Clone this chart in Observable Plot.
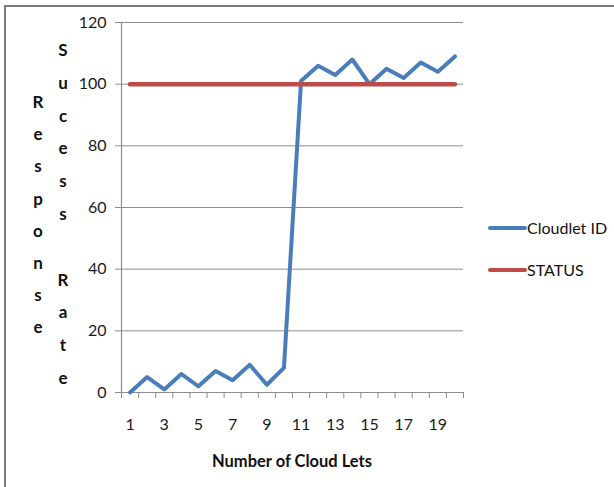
<!DOCTYPE html>
<html>
<head>
<meta charset="utf-8">
<script src="https://cdn.jsdelivr.net/npm/d3@7"></script>
<script src="https://cdn.jsdelivr.net/npm/@observablehq/plot@0.6"></script>
<style>
  html, body { margin: 0; padding: 0; background: #fff; }
  #wrap { position: relative; width: 614px; height: 487px; overflow: hidden; }
  #edge { position: absolute; left: 4px; top: 5px; width: 700px; height: 600px;
          border-left: 2px solid #7a7a7a; border-top: 2px solid #7a7a7a; }
  #chart { position: absolute; left: 0; top: 0; }
</style>
</head>
<body>
<div id="wrap"><div id="edge"></div><div id="chart"></div></div>
<script>
// Number of cloudlets (category axis)
const cloudlets = [1, 2, 3, 4, 5, 6, 7, 8, 9, 10, 11, 12, 13, 14, 15, 16, 17, 18, 19, 20];
// Series: Cloudlet ID
const cloudletId = [0, 5, 1, 6, 2, 7, 4, 9, 2.5, 8, 101, 106, 103, 108, 100, 105, 102, 107, 104, 109];
// Series: STATUS
const status = [100, 100, 100, 100, 100, 100, 100, 100, 100, 100, 100, 100, 100, 100, 100, 100, 100, 100, 100, 100];
// Axis labels
const xTickLabels = [1, 3, 5, 7, 9, 11, 13, 15, 17, 19];
const yTicks = [0, 20, 40, 60, 80, 100, 120];
const seriesNames = ["Cloudlet ID", "STATUS"];
const seriesColors = ["#4a7ebb", "#be4b48"];

const rows = cloudlets.map((c, i) => ({cloudlet: c, id: cloudletId[i], status: status[i]}));
// category boundaries for the tick marks between categories
const boundaries = cloudlets.map(c => c - 0.5).concat([cloudlets[cloudlets.length - 1] + 0.5]);

const axisGray = "#8c8c8c";

const chart = Plot.plot({
  width: 614,
  height: 487,
  marginLeft: 121,
  marginRight: 151,
  marginTop: 22,
  marginBottom: 95,
  style: {fontFamily: "Lato, 'Open Sans', sans-serif", fontSize: "16px", color: "#222", background: "transparent"},
  x: {type: "linear", domain: [0.5, 20.5]},
  y: {domain: [0, 120]},
  marks: [
    Plot.gridY(yTicks, {stroke: axisGray, strokeOpacity: 1}),
    Plot.axisY(yTicks, {tickSize: 6, tickPadding: 9, label: null, stroke: axisGray, fill: "#1a1a1a"}),
    Plot.axisX(boundaries, {tickSize: 6, tickFormat: () => "", label: null, stroke: axisGray}),
    Plot.axisX(xTickLabels, {tickSize: 0, tickPadding: 26, label: null, fill: "#1a1a1a"}),
    Plot.ruleY([0], {stroke: axisGray, strokeWidth: 1.2}),
    Plot.ruleX([0.5], {stroke: axisGray, strokeWidth: 1.2}),
    Plot.line(rows, {x: "cloudlet", y: "id", stroke: seriesColors[0], strokeWidth: 4}),
    Plot.line(rows, {x: "cloudlet", y: "status", stroke: seriesColors[1], strokeWidth: 4.5})
  ]
});

document.getElementById("chart").appendChild(chart);

const svg = d3.select(chart);

// x-axis title
svg.append("text")
  .attr("x", 292).attr("y", 467)
  .attr("text-anchor", "middle")
  .attr("font-weight", "bold")
  .attr("font-size", 16.5)
  .attr("fill", "#111")
  .text("Number of Cloud Lets");

// y-axis title, stacked letters in two columns
function stacked(word, x, y0, step) {
  const t = svg.append("text")
    .attr("text-anchor", "middle")
    .attr("font-weight", "bold")
    .attr("font-size", 17)
    .attr("fill", "#111");
  [...word].forEach((ch, i) => {
    t.append("tspan").attr("x", x).attr("y", y0 + i * step).text(ch === " " ? "\u00a0" : ch);
  });
}
stacked("Response", 38, 108, 32.2);
stacked("Sucess Rate", 63, 56, 32.8);

// legend
const legend = svg.append("g");
seriesNames.forEach((name, i) => {
  const y = 228 + i * 42;
  legend.append("line")
    .attr("x1", 490).attr("x2", 525).attr("y1", y).attr("y2", y)
    .attr("stroke", seriesColors[i]).attr("stroke-width", 4).attr("stroke-linecap", "round");
  legend.append("text")
    .attr("x", 527).attr("y", y).attr("dy", "0.35em")
    .attr("text-anchor", "start")
    .attr("font-size", 16).attr("fill", "#111")
    .text(name);
});
</script>
</body>
</html>
